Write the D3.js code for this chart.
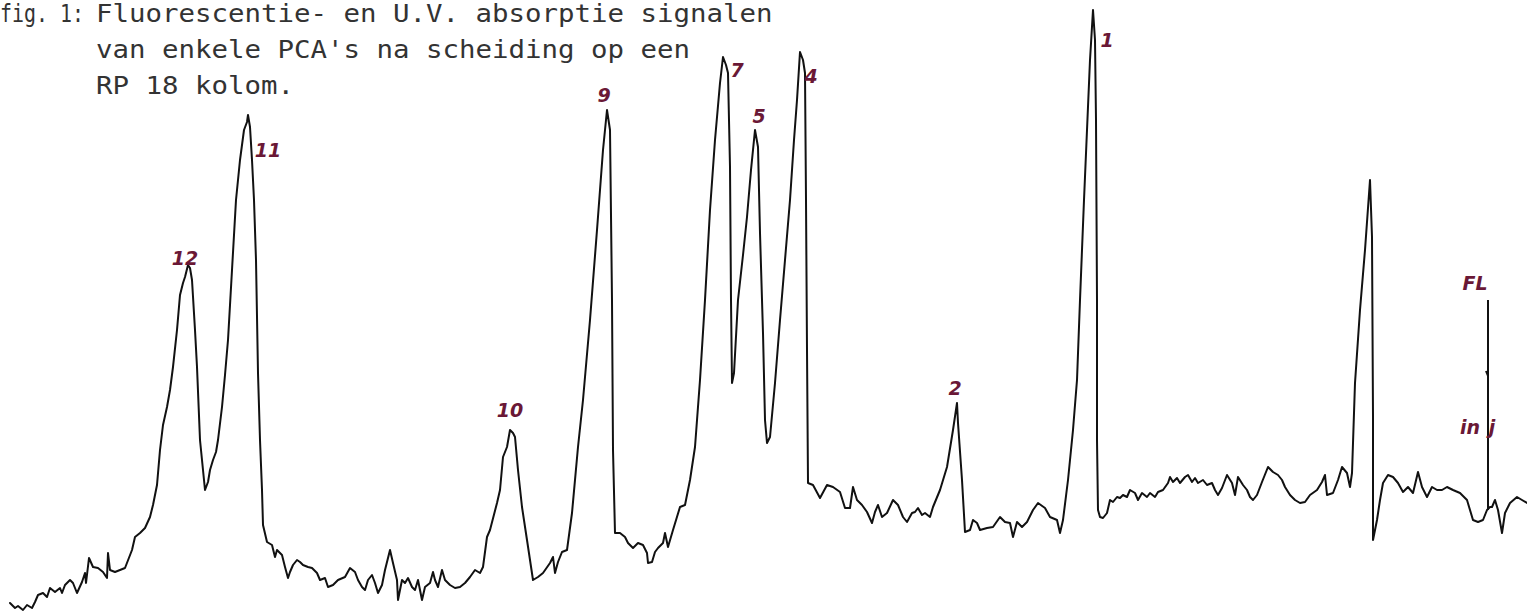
<!DOCTYPE html>
<html>
<head>
<meta charset="utf-8">
<script src="https://cdn.jsdelivr.net/npm/d3@7/dist/d3.min.js"></script>
<style>
  html, body { margin: 0; padding: 0; background: #fff; }
  svg { display: block; }
</style>
</head>
<body>
<div id="chart"></div>
<script>
// recorder trace: [retention position, detector signal]
const trace = [
  [10,13],[15,8],[18,10],[23,6],[27,11],[32,8],[35,14],[38,21],[43,23],[47,19],[50,28],[55,24],[60,28],[62,23],[65,31],[70,36],[73,33],[77,23],[82,34],[85,43],[86,33],[89,58],[93,49],[98,48],[103,44],[107,38],[108,63],[110,46],[115,44],[125,48],[132,66],[135,79],[140,83],[145,88],[150,99],[153,111],
  [157,131],[160,166],[163,191],[167,209],[170,226],[173,249],[177,286],[180,321],[183,333],[185,339],[188,351],[190,348],[192,336],[195,286],[197,249],[200,176],[203,146],[205,126],[208,134],[210,146],[213,156],[216,164],[218,176],[222,209],[225,241],[228,276],[232,346],[236,416],[240,456],[244,486],[247,494],[248,501],[250,489],[252,456],[254,416],[256,356],[258,243],[260,176],[262,126],[263,91],
  [267,74],[272,71],[275,59],[277,66],[282,61],[285,49],[288,38],[290,44],[293,51],[297,56],[300,54],[303,51],[308,49],[312,48],[317,43],[320,36],[325,38],[328,29],[333,31],[338,36],[345,39],[350,48],[355,44],[358,36],[362,29],[365,26],[368,36],[372,41],[375,33],[378,23],[382,31],[385,46],[390,66],[393,53],[397,36],[398,16],[402,36],[405,33],[408,38],[412,29],[415,26],[418,36],[422,16],[425,29],[430,33],[433,44],[435,36],[438,29],[442,46],[445,36],[450,31],[455,28],[460,29],[465,33],[470,39],[475,46],[480,43],[483,49],
  [487,79],[490,86],[497,113],[500,126],[503,159],[507,169],[510,186],[513,183],[515,179],[518,146],[522,109],[527,76],[533,36],[538,39],[543,43],[550,53],[553,59],[555,43],[558,54],[562,64],[567,66],
  [572,103],[578,169],[583,216],[590,296],[597,386],[603,466],[607,506],[610,486],[612,316],[613,166],[615,83],[620,83],[625,79],[628,73],[633,68],[638,73],[643,71],[647,63],[648,53],[652,54],[655,64],[658,68],[663,73],[665,83],[668,69],[673,86],[680,109],[685,111],
  [690,136],[695,169],[700,236],[705,316],[710,406],[715,476],[720,533],[723,559],[726,551],[728,543],[730,449],[731,316],[732,233],[734,243],[738,316],[743,361],[747,399],[751,446],[755,486],[758,469],[760,383],[763,283],[765,196],[767,173],[770,179],[775,233],[780,296],[785,356],[790,416],[794,476],[797,516],[800,564],[803,556],[805,543],[806,416],[807,266],[808,133],
  [813,131],[820,118],[827,131],[833,129],[840,124],[845,108],[850,108],[853,129],[857,116],[862,111],[867,104],[872,93],[875,104],[878,111],[882,99],[887,103],[893,116],[898,111],[903,99],[907,94],[912,103],[915,104],[918,108],[922,101],[925,103],[930,99],[933,109],
  [940,126],[947,149],[953,186],[957,213],[958,193],[962,136],[965,84],[970,86],[973,96],[977,93],[980,86],[987,88],[993,89],[1000,99],[1005,94],[1010,93],[1013,79],[1017,94],[1022,89],[1027,94],[1033,106],[1038,113],[1045,108],[1050,99],[1057,96],[1060,83],[1063,96],
  [1068,136],[1073,186],[1077,236],[1080,316],[1084,416],[1087,486],[1090,556],[1093,606],[1095,576],[1096,496],[1097,316],[1097,176],[1098,106],
  [1100,99],[1103,98],[1107,103],[1110,116],[1113,114],[1117,119],[1120,118],[1123,121],[1127,119],[1130,126],[1135,123],[1138,116],[1142,123],[1147,119],[1150,123],[1155,119],[1158,124],[1163,126],[1168,133],[1170,139],[1173,134],[1177,138],[1180,133],[1185,139],[1188,141],[1192,134],[1195,138],[1198,133],[1203,136],[1207,131],[1212,133],[1215,126],[1218,121],[1222,128],[1227,141],[1232,133],[1235,121],[1238,139],[1243,131],[1247,126],[1250,119],[1253,116],[1257,121],[1262,134],[1268,149],[1273,144],[1278,141],[1282,136],[1285,129],[1290,121],[1295,116],[1300,113],[1305,114],[1310,121],[1317,126],[1322,134],[1325,141],[1327,121],[1333,123],[1338,136],[1342,149],[1347,143],[1350,129],[1352,143],
  [1355,233],[1360,306],[1365,366],[1370,436],[1372,379],[1373,199],[1373,76],[1377,96],[1380,116],[1383,133],[1388,141],[1393,139],[1398,133],[1403,124],[1408,129],[1413,123],[1418,144],[1422,129],[1427,119],[1432,129],[1437,126],[1442,126],[1447,129],[1453,126],[1460,123],[1467,116],[1473,96],[1478,94],[1483,96],[1487,106],
  [1490,109],[1492,109],[1495,116],[1498,106],[1502,83],[1505,103],[1510,113],[1517,119],[1522,116],[1527,113]
];

// injection / FL marker: position, bottom, top
const injMarker = [1488, 106, 316];

// handwritten peak numbers: text, position, signal (label centre)
const peakLabels = [
  ["12", 185, 358],
  ["11", 268, 466],
  ["10", 510, 206],
  ["9", 604, 521],
  ["7", 737, 546],
  ["5", 759, 500],
  ["4", 811, 540],
  ["2", 955, 228],
  ["1", 1107, 576],
  ["FL", 1475, 333],
  ["in", 1470, 189],
  ["j", 1492, 189]
];

const titleLines = [
  "Fluorescentie- en U.V. absorptie signalen",
  "van enkele PCA's na scheiding op een",
  "RP 18 kolom."
];
const charWidth = 16.5;

const width = 1527, height = 616;

const svg = d3.select("#chart").append("svg")
  .attr("width", width)
  .attr("height", height);

const x = d3.scaleLinear().domain([0, 1527]).range([0, width]);
const y = d3.scaleLinear().domain([0, 616]).range([height, 0]);

// title, typed
const title = svg.append("g")
  .attr("font-family", "'DejaVu Sans Mono', 'Liberation Mono', monospace")
  .attr("font-size", 24)
  .attr("fill", "#333");

title.append("text")
  .attr("x", 0).attr("y", 22)
  .attr("textLength", 84).attr("lengthAdjust", "spacingAndGlyphs")
  .text("fig. 1:");

title.selectAll("text.line")
  .data(titleLines)
  .enter().append("text")
  .attr("class", "line")
  .attr("x", 96)
  .attr("y", (d, i) => 22 + i * 36)
  .attr("textLength", d => d.length * charWidth)
  .attr("lengthAdjust", "spacingAndGlyphs")
  .text(d => d);

// chromatogram trace
const line = d3.line()
  .x(d => x(d[0]))
  .y(d => y(d[1]));

svg.append("path")
  .datum(trace)
  .attr("fill", "none")
  .attr("stroke", "#111")
  .attr("stroke-width", 2)
  .attr("stroke-linejoin", "round")
  .attr("stroke-linecap", "round")
  .attr("d", line);

// FL / injection pen mark
svg.append("line")
  .attr("x1", x(injMarker[0])).attr("x2", x(injMarker[0]))
  .attr("y1", y(injMarker[1])).attr("y2", y(injMarker[2]))
  .attr("stroke", "#111")
  .attr("stroke-width", 2);

svg.append("line")
  .attr("x1", x(injMarker[0]) - 2).attr("x2", x(injMarker[0]))
  .attr("y1", y(245)).attr("y2", y(240))
  .attr("stroke", "#111")
  .attr("stroke-width", 2);

// peak numbers
svg.append("g")
  .attr("font-family", "'DejaVu Sans', sans-serif")
  .attr("font-style", "italic")
  .attr("font-weight", "bold")
  .attr("font-size", 19)
  .attr("fill", "#6a1836")
  .attr("text-anchor", "middle")
  .selectAll("text")
  .data(peakLabels)
  .enter().append("text")
  .attr("x", d => x(d[1]))
  .attr("y", d => y(d[2]) + 7)
  .text(d => d[0]);
</script>
</body>
</html>
